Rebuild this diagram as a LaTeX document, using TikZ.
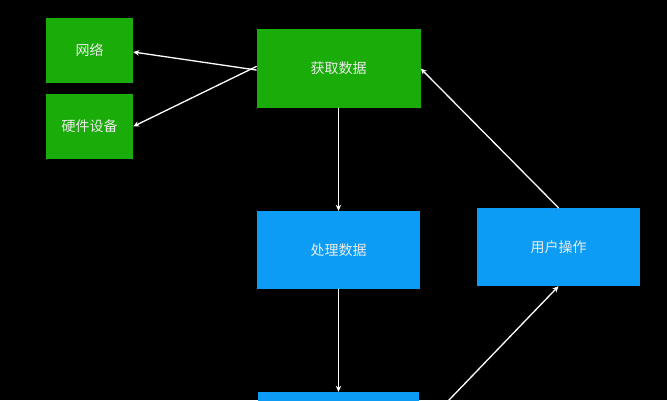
\documentclass[tikz,border=0pt]{standalone}
\usepackage{fontspec}
\setmainfont{Noto Sans CJK SC}
\usetikzlibrary{arrows.meta}
\definecolor{boxgreen}{RGB}{26,173,10}
\definecolor{boxblue}{RGB}{12,156,245}
\tikzset{
  box/.style={inner sep=0pt,text=white!92!black,font=\fontsize{14}{16}\selectfont},
  greenbox/.style={box,fill=boxgreen},
  bluebox/.style={box,fill=boxblue},
  flow/.style={draw=white,line width=1.3pt,-{Stealth[length=6pt,width=5.5pt]}}
}
\begin{document}
\begin{tikzpicture}[x=1pt,y=-1pt,line cap=round,line join=round]
  \fill[black] (0,0) rectangle (667,400);
  \clip (0,0) rectangle (667,400);
  \node[greenbox,minimum width=87pt,minimum height=65pt] (net) at (89.5,50.5) {网络};
  \node[greenbox,minimum width=87pt,minimum height=65pt] (hw) at (89.5,126.5) {硬件设备};
  \node[greenbox,minimum width=164pt,minimum height=79pt] (fetch) at (338.5,68.5) {获取数据};
  \node[bluebox,minimum width=163pt,minimum height=78pt] (proc) at (338.5,250) {处理数据};
  \node[bluebox,minimum width=163pt,minimum height=78pt] (user) at (558.5,247) {用户操作};
  \node[bluebox,minimum width=161pt,minimum height=78pt] (show) at (338.5,431) {};
  \draw[flow] ([yshift=-1.5pt]fetch.west) -- ([yshift=-1.5pt]net.east);
  \draw[flow] ([yshift=2pt]fetch.west) -- (hw.east);
  \draw[flow] (fetch.south) -- (proc.north);
  \draw[flow] (proc.south) -- (show.north);
  \draw[flow] (show.east) -- (user.south);
  \draw[flow] (user.north) -- (fetch.east);
\end{tikzpicture}
\end{document}
